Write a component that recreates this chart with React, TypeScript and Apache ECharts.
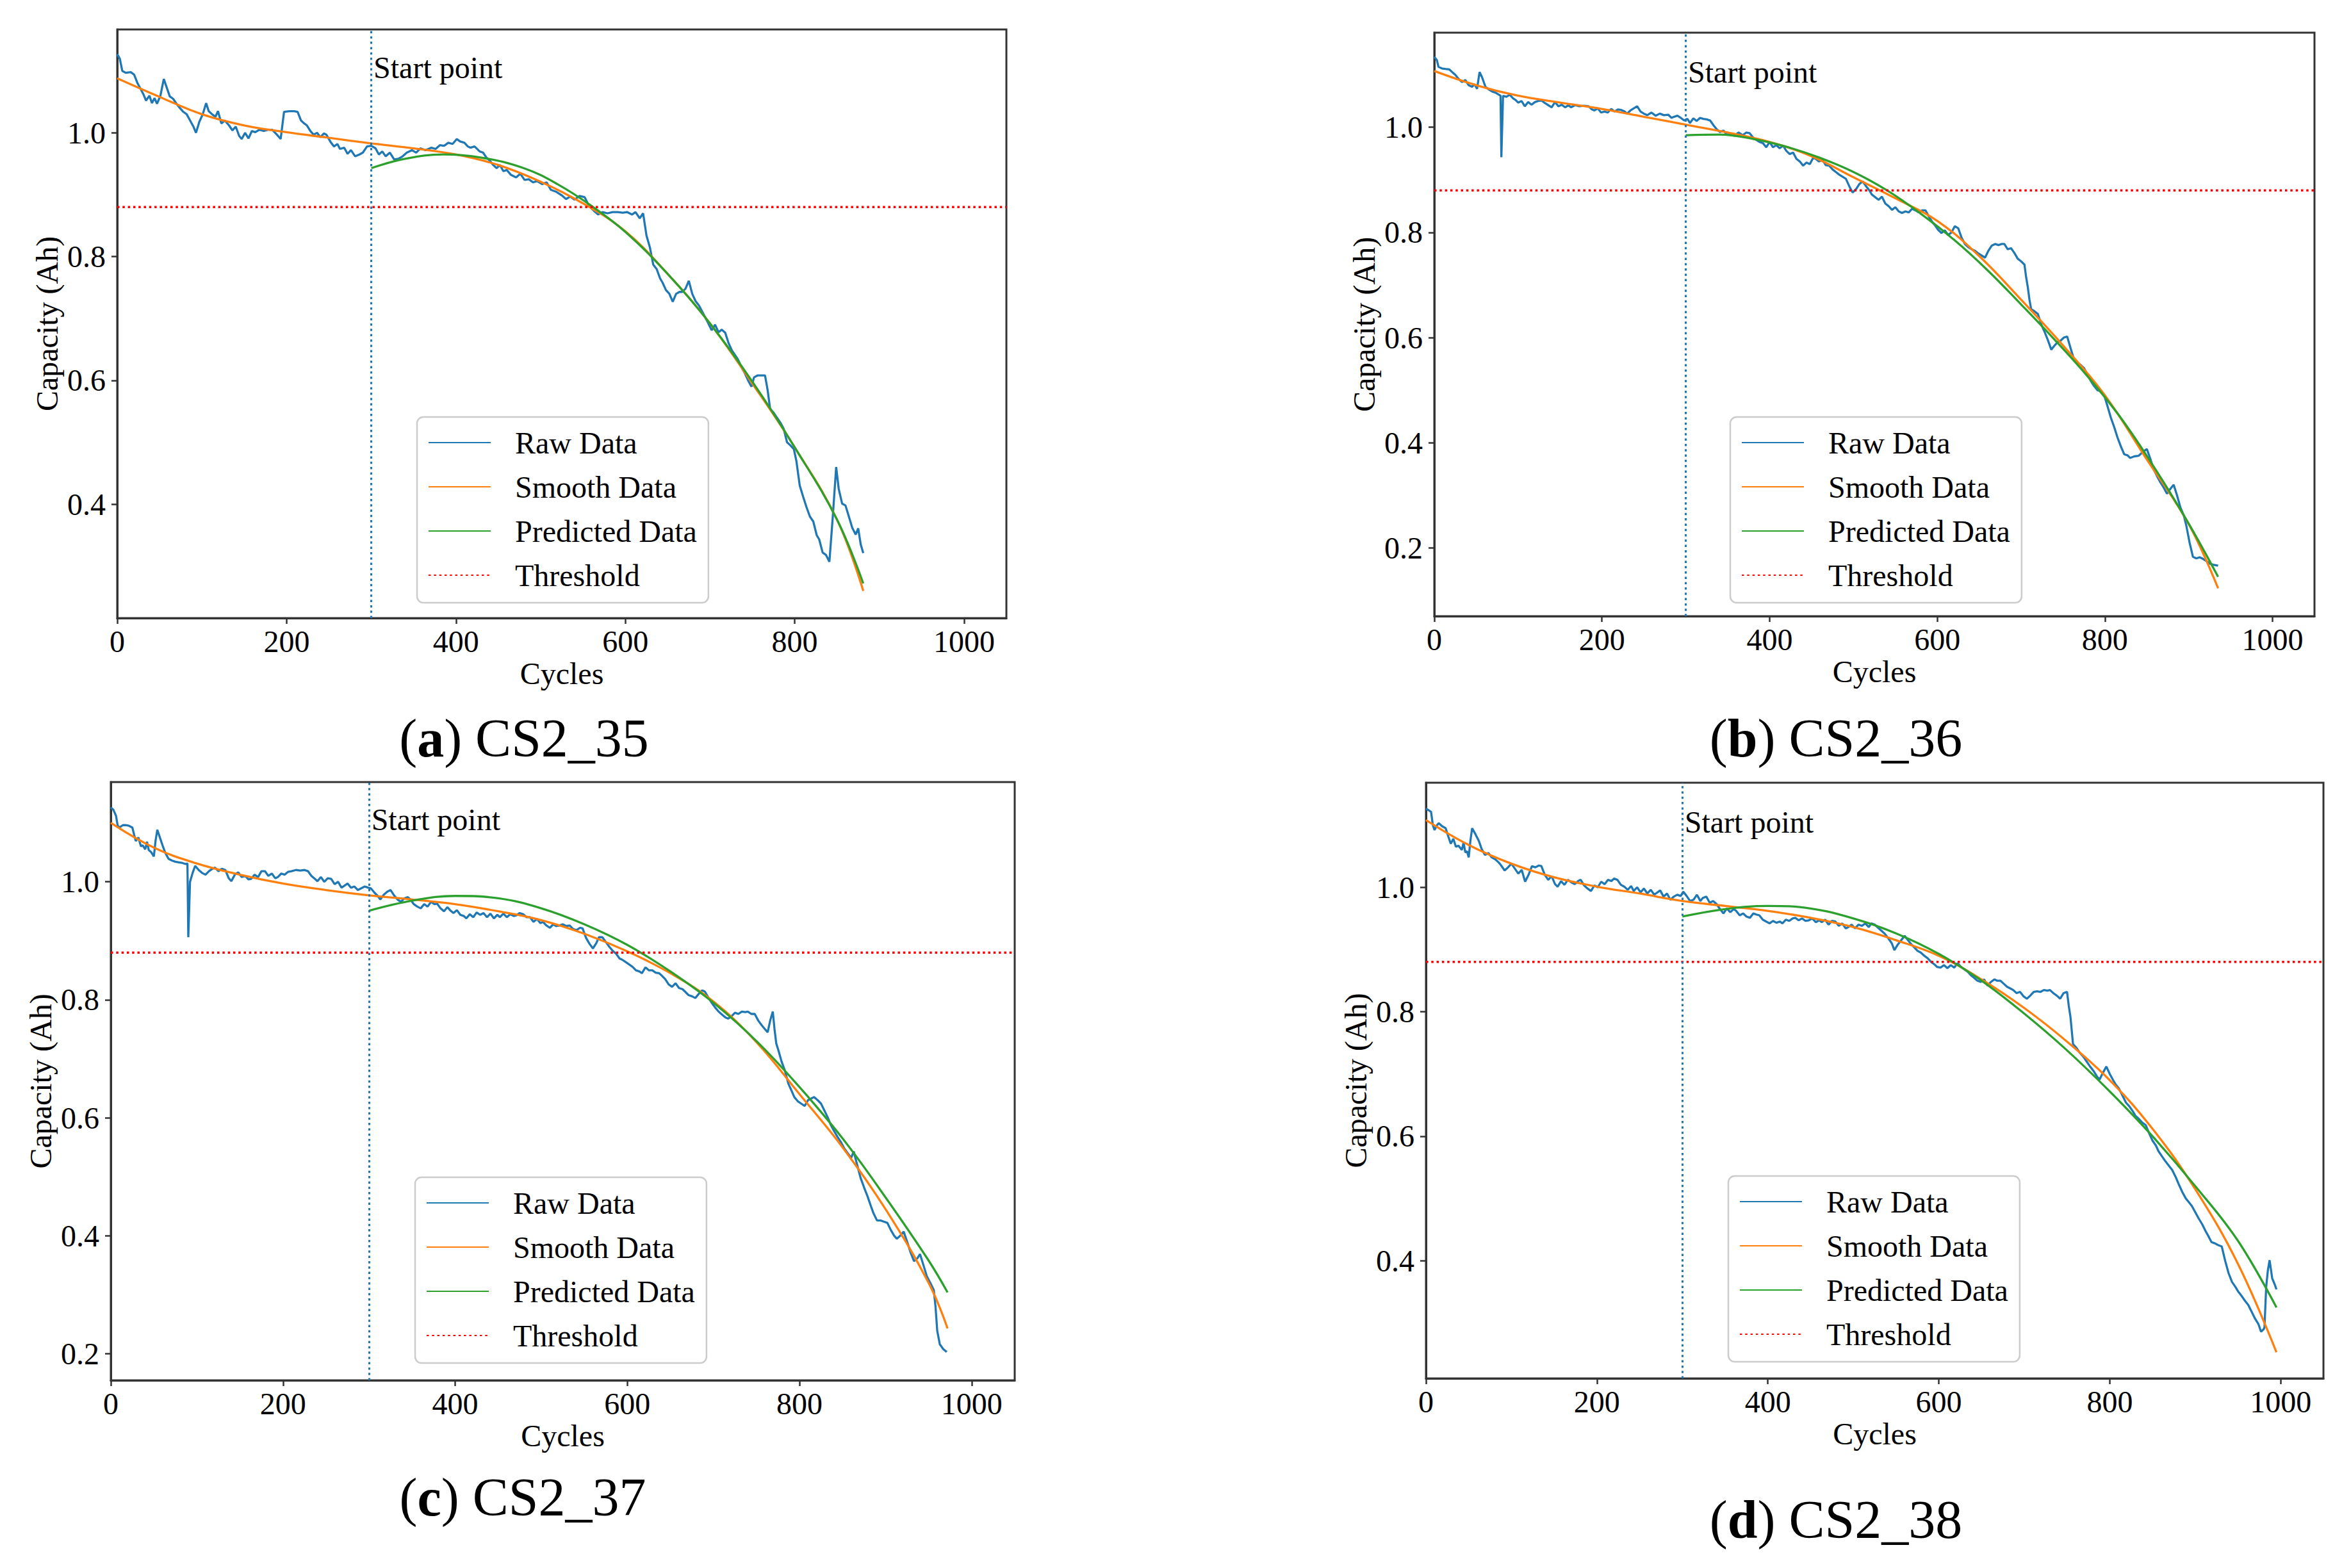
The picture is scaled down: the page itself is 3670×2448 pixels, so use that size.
import React, { useEffect, useRef } from 'react';
import * as echarts from 'echarts';

// capacity readings, [cycle, Ah]
const RAW_A: [number, number][] = [
  [0, 1.127], [3, 1.12], [6, 1.1], [10, 1.097], [16, 1.098], [20, 1.094], [24, 1.08], [28, 1.07], [31, 1.062], [34, 1.052],
  [38, 1.06], [41, 1.048], [44, 1.056], [47, 1.047], [51, 1.06], [55, 1.087], [58, 1.075], [62, 1.059], [66, 1.055], [70, 1.047],
  [74, 1.04], [78, 1.034], [82, 1.03], [86, 1.02], [90, 1.01], [93, 1.0], [97, 1.018], [101, 1.03], [105, 1.048], [108, 1.035],
  [112, 1.03], [116, 1.026], [119, 1.035], [123, 1.015], [127, 1.02], [132, 1.012], [136, 1.004], [140, 1.01], [144, 0.995], [147, 0.99],
  [151, 1.0], [155, 0.991], [159, 1.003], [163, 1.001], [168, 1.005], [173, 1.003], [178, 1.005], [183, 1.005], [188, 0.998], [193, 0.99],
  [197, 1.034], [203, 1.035], [209, 1.035], [213, 1.034], [217, 1.02], [220, 1.016], [224, 1.012], [228, 1.003], [232, 0.997], [236, 1.0],
  [240, 0.993], [244, 0.999], [247, 0.997], [252, 0.985], [256, 0.978], [260, 0.982], [263, 0.974], [268, 0.976], [272, 0.966], [276, 0.972],
  [281, 0.962], [286, 0.965], [290, 0.968], [295, 0.978], [300, 0.979], [305, 0.975], [309, 0.965], [313, 0.97], [317, 0.962], [322, 0.968],
  [327, 0.957], [332, 0.958], [337, 0.962], [342, 0.968], [348, 0.972], [353, 0.968], [358, 0.975], [364, 0.972], [371, 0.976], [376, 0.974],
  [381, 0.98], [386, 0.979], [391, 0.984], [396, 0.982], [401, 0.99], [405, 0.986], [410, 0.984], [414, 0.978], [417, 0.976], [422, 0.978],
  [428, 0.97], [432, 0.968], [436, 0.96], [440, 0.955], [444, 0.948], [448, 0.943], [452, 0.948], [456, 0.938], [460, 0.94], [465, 0.932],
  [471, 0.928], [476, 0.934], [481, 0.924], [486, 0.925], [491, 0.92], [496, 0.922], [502, 0.917], [507, 0.92], [512, 0.908], [518, 0.905],
  [525, 0.899], [530, 0.893], [535, 0.897], [540, 0.892], [546, 0.898], [552, 0.896], [556, 0.885], [560, 0.878], [563, 0.874], [568, 0.868],
  [573, 0.872], [579, 0.87], [585, 0.872], [591, 0.872], [597, 0.871], [602, 0.872], [608, 0.868], [612, 0.872], [617, 0.862], [621, 0.87],
  [625, 0.834], [629, 0.815], [633, 0.787], [637, 0.78], [641, 0.765], [644, 0.758], [648, 0.746], [652, 0.74], [656, 0.727], [660, 0.74],
  [664, 0.743], [667, 0.743], [671, 0.748], [675, 0.761], [679, 0.74], [683, 0.728], [687, 0.721], [692, 0.708], [697, 0.695], [702, 0.681],
  [706, 0.69], [710, 0.678], [714, 0.682], [718, 0.677], [722, 0.66], [726, 0.648], [730, 0.64], [733, 0.634], [737, 0.622], [741, 0.612],
  [745, 0.6], [749, 0.59], [752, 0.605], [756, 0.608], [760, 0.608], [765, 0.608], [768, 0.585], [771, 0.554], [775, 0.548], [779, 0.54],
  [783, 0.532], [787, 0.522], [791, 0.5], [795, 0.495], [799, 0.489], [802, 0.47], [806, 0.43], [810, 0.412], [814, 0.395], [818, 0.38],
  [822, 0.372], [826, 0.35], [829, 0.343], [833, 0.322], [837, 0.318], [841, 0.307], [845, 0.38], [849, 0.46], [852, 0.425], [856, 0.401],
  [860, 0.398], [864, 0.38], [868, 0.362], [872, 0.351], [875, 0.361], [878, 0.335], [881, 0.321],
];
const SMOOTH_A: [number, number][] = [
  [0, 1.088], [50, 1.058], [100, 1.03], [150, 1.012], [200, 1.001], [250, 0.992], [300, 0.983], [350, 0.975], [400, 0.965], [450, 0.948],
  [500, 0.921], [550, 0.886], [600, 0.841], [650, 0.772], [700, 0.692], [750, 0.595], [800, 0.492], [850, 0.375], [881, 0.26],
];
const PRED_A: [number, number][] = [
  [300, 0.943], [340, 0.958], [385, 0.965], [430, 0.96], [480, 0.943], [520, 0.917], [560, 0.882], [600, 0.84], [650, 0.772], [700, 0.692],
  [750, 0.598], [800, 0.492], [850, 0.375], [881, 0.272],
];

const RAW_B: [number, number][] = [
  [0, 1.134], [3, 1.128], [5, 1.115], [9, 1.112], [13, 1.111], [18, 1.11], [22, 1.104], [25, 1.1], [29, 1.092], [33, 1.086],
  [37, 1.09], [41, 1.08], [45, 1.077], [48, 1.082], [51, 1.073], [54, 1.105], [57, 1.095], [61, 1.077], [65, 1.072], [69, 1.068],
  [73, 1.066], [77, 1.062], [79, 1.06], [80, 0.943], [82, 1.06], [86, 1.058], [90, 1.062], [94, 1.055], [97, 1.052], [100, 1.047],
  [104, 1.05], [108, 1.04], [112, 1.048], [116, 1.043], [120, 1.048], [124, 1.05], [128, 1.051], [132, 1.046], [136, 1.042], [140, 1.038],
  [144, 1.048], [148, 1.04], [152, 1.043], [156, 1.038], [160, 1.042], [163, 1.038], [168, 1.042], [173, 1.04], [179, 1.041], [184, 1.04],
  [188, 1.034], [191, 1.032], [195, 1.036], [199, 1.028], [203, 1.03], [207, 1.028], [211, 1.035], [215, 1.03], [219, 1.034], [223, 1.033],
  [227, 1.03], [230, 1.026], [234, 1.032], [238, 1.036], [242, 1.04], [246, 1.03], [250, 1.026], [254, 1.023], [259, 1.028], [264, 1.022],
  [269, 1.026], [274, 1.023], [279, 1.024], [283, 1.018], [286, 1.02], [290, 1.022], [294, 1.018], [298, 1.013], [302, 1.016], [305, 1.008],
  [309, 1.017], [313, 1.012], [317, 1.018], [321, 1.016], [325, 1.015], [329, 1.013], [333, 1.004], [337, 0.996], [341, 0.991], [345, 0.994],
  [349, 0.986], [353, 0.987], [358, 0.984], [363, 0.99], [368, 0.985], [372, 0.99], [376, 0.989], [380, 0.981], [384, 0.976], [388, 0.972],
  [392, 0.97], [396, 0.962], [400, 0.972], [404, 0.962], [408, 0.966], [412, 0.96], [416, 0.965], [420, 0.955], [424, 0.949], [428, 0.952],
  [432, 0.94], [436, 0.935], [440, 0.927], [444, 0.933], [448, 0.93], [452, 0.942], [455, 0.94], [459, 0.935], [463, 0.938], [467, 0.928],
  [471, 0.927], [475, 0.92], [479, 0.915], [483, 0.91], [487, 0.906], [491, 0.902], [495, 0.888], [499, 0.876], [503, 0.882], [507, 0.892],
  [511, 0.897], [515, 0.888], [519, 0.88], [522, 0.872], [526, 0.867], [530, 0.862], [534, 0.868], [538, 0.855], [542, 0.85], [546, 0.843],
  [550, 0.848], [554, 0.84], [558, 0.837], [562, 0.84], [566, 0.838], [570, 0.845], [574, 0.842], [578, 0.838], [582, 0.842], [586, 0.842],
  [590, 0.83], [594, 0.82], [598, 0.812], [601, 0.805], [605, 0.799], [609, 0.804], [613, 0.795], [617, 0.8], [621, 0.812], [625, 0.808],
  [629, 0.79], [633, 0.778], [637, 0.772], [641, 0.768], [645, 0.765], [649, 0.76], [653, 0.756], [657, 0.752], [661, 0.765], [665, 0.775],
  [669, 0.778], [673, 0.776], [677, 0.778], [680, 0.778], [684, 0.768], [688, 0.77], [692, 0.761], [696, 0.75], [700, 0.745], [704, 0.739],
  [706, 0.715], [708, 0.696], [710, 0.672], [712, 0.654], [716, 0.65], [720, 0.645], [724, 0.625], [728, 0.611], [732, 0.595], [736, 0.577],
  [740, 0.585], [744, 0.592], [747, 0.594], [751, 0.6], [755, 0.602], [759, 0.58], [763, 0.559], [767, 0.552], [771, 0.548], [775, 0.542],
  [779, 0.53], [783, 0.518], [787, 0.508], [791, 0.5], [795, 0.498], [799, 0.491], [803, 0.47], [807, 0.448], [811, 0.43], [815, 0.41],
  [819, 0.393], [823, 0.378], [827, 0.376], [830, 0.371], [835, 0.374], [840, 0.375], [845, 0.382], [850, 0.388], [854, 0.37], [858, 0.35],
  [862, 0.337], [866, 0.325], [870, 0.315], [874, 0.303], [878, 0.312], [882, 0.32], [886, 0.3], [890, 0.277], [894, 0.262], [897, 0.243],
  [901, 0.21], [905, 0.183], [909, 0.18], [913, 0.182], [917, 0.179], [921, 0.175], [925, 0.17], [929, 0.168], [932, 0.167], [935, 0.166],
];
const SMOOTH_B: [number, number][] = [
  [0, 1.107], [50, 1.08], [100, 1.06], [150, 1.047], [200, 1.035], [250, 1.02], [300, 1.005], [350, 0.99], [400, 0.972], [450, 0.945],
  [500, 0.905], [550, 0.865], [600, 0.822], [650, 0.755], [700, 0.672], [750, 0.585], [800, 0.49], [850, 0.368], [900, 0.245], [935, 0.123],
];
const PRED_B: [number, number][] = [
  [300, 0.985], [340, 0.986], [380, 0.978], [420, 0.963], [460, 0.942], [500, 0.915], [540, 0.88], [580, 0.836], [620, 0.786], [660, 0.728],
  [700, 0.663], [740, 0.596], [780, 0.525], [820, 0.445], [860, 0.35], [900, 0.246], [935, 0.145],
];

const RAW_C: [number, number][] = [
  [0, 1.126], [3, 1.122], [6, 1.112], [8, 1.095], [10, 1.092], [14, 1.096], [17, 1.096], [21, 1.095], [25, 1.092], [27, 1.08],
  [29, 1.069], [32, 1.075], [35, 1.06], [37, 1.062], [40, 1.055], [42, 1.068], [44, 1.054], [47, 1.05], [50, 1.043], [52, 1.07],
  [54, 1.088], [57, 1.075], [60, 1.062], [63, 1.05], [67, 1.039], [71, 1.036], [75, 1.034], [79, 1.033], [83, 1.032], [87, 1.03],
  [89, 1.031], [90, 0.906], [92, 1.0], [95, 1.015], [98, 1.027], [102, 1.02], [106, 1.015], [110, 1.012], [114, 1.018], [118, 1.022],
  [121, 1.024], [125, 1.018], [129, 1.022], [133, 1.02], [137, 1.006], [140, 1.001], [144, 1.012], [148, 1.016], [152, 1.008], [156, 1.01],
  [160, 1.004], [163, 1.005], [167, 1.012], [171, 1.008], [175, 1.018], [179, 1.018], [183, 1.01], [187, 1.014], [191, 1.006], [194, 1.008],
  [198, 1.014], [202, 1.012], [206, 1.017], [210, 1.018], [215, 1.02], [220, 1.019], [225, 1.02], [229, 1.018], [233, 1.01], [237, 1.005],
  [240, 1.001], [244, 1.008], [248, 1.0], [252, 1.006], [256, 1.005], [260, 0.996], [264, 1.0], [268, 0.99], [271, 0.993], [275, 0.997],
  [279, 0.99], [283, 0.992], [287, 0.986], [291, 0.989], [295, 0.992], [299, 0.99], [302, 0.989], [306, 0.982], [310, 0.976], [313, 0.97],
  [317, 0.978], [321, 0.983], [325, 0.986], [329, 0.977], [333, 0.97], [337, 0.966], [341, 0.972], [345, 0.974], [348, 0.97], [352, 0.962],
  [356, 0.958], [360, 0.955], [364, 0.962], [368, 0.958], [372, 0.966], [376, 0.962], [379, 0.963], [383, 0.955], [387, 0.95], [391, 0.957],
  [394, 0.952], [398, 0.947], [402, 0.952], [406, 0.944], [410, 0.942], [413, 0.938], [417, 0.945], [421, 0.94], [425, 0.948], [429, 0.944],
  [433, 0.947], [437, 0.94], [441, 0.946], [445, 0.938], [449, 0.944], [452, 0.94], [456, 0.946], [460, 0.94], [464, 0.945], [468, 0.942],
  [471, 0.943], [475, 0.947], [479, 0.945], [483, 0.94], [487, 0.94], [491, 0.932], [495, 0.937], [499, 0.93], [502, 0.932], [506, 0.926],
  [510, 0.922], [514, 0.928], [517, 0.925], [521, 0.926], [525, 0.928], [529, 0.925], [533, 0.926], [537, 0.92], [541, 0.918], [545, 0.922],
  [548, 0.921], [552, 0.905], [556, 0.895], [560, 0.887], [564, 0.896], [567, 0.906], [571, 0.906], [575, 0.898], [579, 0.89], [583, 0.883],
  [587, 0.878], [591, 0.87], [594, 0.868], [598, 0.864], [602, 0.86], [606, 0.856], [610, 0.85], [614, 0.848], [617, 0.845], [621, 0.855],
  [625, 0.85], [629, 0.85], [633, 0.846], [637, 0.845], [640, 0.841], [644, 0.835], [648, 0.826], [652, 0.822], [656, 0.828], [660, 0.82],
  [664, 0.818], [667, 0.814], [671, 0.808], [675, 0.806], [679, 0.803], [683, 0.81], [687, 0.816], [690, 0.814], [694, 0.804], [698, 0.795],
  [702, 0.787], [706, 0.78], [710, 0.775], [714, 0.77], [717, 0.768], [721, 0.772], [725, 0.778], [729, 0.776], [733, 0.78], [737, 0.779],
  [740, 0.78], [744, 0.776], [748, 0.776], [752, 0.765], [756, 0.757], [760, 0.75], [763, 0.745], [766, 0.765], [769, 0.78], [771, 0.75],
  [773, 0.726], [776, 0.712], [779, 0.696], [783, 0.68], [787, 0.658], [791, 0.645], [794, 0.635], [798, 0.628], [802, 0.624], [806, 0.62],
  [810, 0.63], [814, 0.633], [817, 0.635], [821, 0.63], [825, 0.624], [829, 0.612], [833, 0.6], [836, 0.589], [840, 0.578], [844, 0.568],
  [848, 0.559], [852, 0.548], [856, 0.54], [860, 0.532], [863, 0.543], [867, 0.52], [871, 0.498], [875, 0.482], [879, 0.467], [883, 0.45],
  [886, 0.438], [890, 0.426], [894, 0.426], [898, 0.424], [902, 0.422], [906, 0.41], [910, 0.4], [913, 0.395], [917, 0.4], [921, 0.407],
  [925, 0.39], [929, 0.372], [933, 0.357], [937, 0.362], [940, 0.369], [944, 0.35], [948, 0.331], [952, 0.32], [956, 0.308], [958, 0.28],
  [960, 0.239], [963, 0.216], [967, 0.208], [971, 0.203],
];
const SMOOTH_C: [number, number][] = [
  [0, 1.1], [50, 1.058], [100, 1.031], [150, 1.012], [200, 0.997], [250, 0.986], [300, 0.977], [350, 0.97], [400, 0.962], [450, 0.95],
  [500, 0.935], [550, 0.912], [600, 0.882], [650, 0.845], [700, 0.797], [750, 0.728], [800, 0.64], [850, 0.55], [900, 0.445], [950, 0.32],
  [972, 0.243],
];
const PRED_C: [number, number][] = [
  [300, 0.951], [350, 0.968], [400, 0.976], [450, 0.972], [500, 0.955], [550, 0.928], [600, 0.893], [650, 0.848], [700, 0.795], [750, 0.73],
  [800, 0.652], [850, 0.565], [900, 0.465], [950, 0.358], [972, 0.304],
];

const RAW_D: [number, number][] = [
  [0, 1.126], [3, 1.124], [6, 1.121], [8, 1.1], [10, 1.092], [13, 1.1], [15, 1.103], [19, 1.098], [23, 1.095], [26, 1.082],
  [29, 1.07], [32, 1.078], [35, 1.065], [38, 1.067], [42, 1.06], [44, 1.072], [46, 1.056], [48, 1.058], [50, 1.048], [52, 1.075],
  [54, 1.095], [58, 1.085], [62, 1.074], [65, 1.062], [69, 1.052], [73, 1.055], [77, 1.048], [81, 1.045], [85, 1.04], [88, 1.035],
  [92, 1.027], [96, 1.032], [100, 1.038], [104, 1.03], [108, 1.022], [112, 1.028], [116, 1.009], [120, 1.02], [124, 1.034], [128, 1.032],
  [132, 1.035], [135, 1.034], [139, 1.02], [143, 1.012], [147, 1.018], [151, 1.005], [154, 1.001], [158, 1.01], [162, 1.004], [166, 1.012],
  [170, 1.008], [174, 1.005], [178, 1.01], [181, 1.012], [185, 1.003], [189, 0.998], [193, 0.994], [197, 1.003], [201, 1.0], [205, 1.009],
  [209, 1.005], [213, 1.012], [217, 1.01], [220, 1.014], [224, 1.012], [228, 1.004], [232, 1.001], [236, 0.996], [240, 1.002], [243, 0.994],
  [247, 1.0], [251, 0.992], [255, 0.998], [259, 0.99], [263, 0.996], [267, 0.988], [270, 0.991], [274, 0.995], [278, 0.985], [282, 0.99],
  [286, 0.98], [290, 0.985], [294, 0.988], [298, 0.986], [301, 0.993], [305, 0.986], [309, 0.978], [313, 0.98], [317, 0.988], [321, 0.978],
  [324, 0.983], [328, 0.985], [332, 0.975], [336, 0.978], [340, 0.973], [344, 0.965], [348, 0.958], [352, 0.966], [356, 0.96], [360, 0.965],
  [363, 0.962], [367, 0.955], [371, 0.958], [375, 0.953], [379, 0.951], [383, 0.958], [387, 0.956], [390, 0.955], [394, 0.948], [398, 0.945],
  [402, 0.942], [406, 0.946], [410, 0.943], [414, 0.945], [417, 0.942], [421, 0.948], [425, 0.946], [429, 0.95], [432, 0.951], [436, 0.947],
  [440, 0.95], [444, 0.946], [448, 0.947], [452, 0.95], [456, 0.944], [460, 0.947], [463, 0.944], [467, 0.948], [471, 0.94], [475, 0.946],
  [479, 0.945], [483, 0.938], [487, 0.942], [491, 0.934], [494, 0.936], [498, 0.94], [502, 0.934], [506, 0.94], [510, 0.938], [514, 0.942],
  [518, 0.936], [521, 0.942], [525, 0.94], [529, 0.935], [533, 0.93], [537, 0.925], [541, 0.918], [545, 0.91], [548, 0.899], [552, 0.908],
  [556, 0.915], [560, 0.922], [564, 0.915], [568, 0.908], [571, 0.904], [575, 0.898], [579, 0.895], [583, 0.89], [587, 0.886], [591, 0.88],
  [595, 0.876], [598, 0.872], [602, 0.871], [606, 0.875], [610, 0.87], [614, 0.875], [618, 0.871], [622, 0.878], [626, 0.872], [630, 0.868],
  [634, 0.864], [638, 0.858], [641, 0.855], [645, 0.85], [649, 0.848], [653, 0.852], [657, 0.842], [661, 0.848], [665, 0.852], [668, 0.85],
  [672, 0.85], [676, 0.845], [680, 0.84], [683, 0.838], [687, 0.835], [691, 0.83], [695, 0.832], [699, 0.825], [703, 0.821], [707, 0.826],
  [711, 0.832], [715, 0.833], [719, 0.832], [723, 0.835], [727, 0.834], [730, 0.835], [734, 0.83], [738, 0.826], [742, 0.821], [746, 0.83],
  [750, 0.832], [752, 0.81], [754, 0.792], [757, 0.748], [761, 0.742], [765, 0.734], [769, 0.728], [773, 0.72], [777, 0.712], [781, 0.705],
  [785, 0.696], [788, 0.691], [792, 0.702], [796, 0.712], [800, 0.7], [804, 0.69], [807, 0.683], [811, 0.676], [815, 0.665], [819, 0.654],
  [823, 0.648], [827, 0.64], [830, 0.633], [834, 0.628], [838, 0.622], [842, 0.618], [846, 0.605], [850, 0.593], [854, 0.585], [857, 0.576],
  [861, 0.568], [865, 0.56], [869, 0.553], [873, 0.546], [877, 0.535], [881, 0.522], [885, 0.51], [889, 0.5], [892, 0.495], [896, 0.488],
  [900, 0.478], [904, 0.468], [908, 0.459], [912, 0.448], [916, 0.438], [919, 0.43], [923, 0.428], [927, 0.425], [931, 0.423], [935, 0.4],
  [939, 0.38], [943, 0.366], [947, 0.358], [950, 0.351], [954, 0.344], [958, 0.336], [962, 0.329], [966, 0.318], [970, 0.307], [974, 0.298],
  [977, 0.286], [980, 0.29], [981, 0.293], [983, 0.358], [985, 0.385], [987, 0.401], [990, 0.372], [993, 0.362], [995, 0.354],
];
const SMOOTH_D: [number, number][] = [
  [0, 1.108], [50, 1.068], [100, 1.038], [150, 1.016], [200, 1.001], [250, 0.99], [300, 0.978], [350, 0.97], [400, 0.962], [450, 0.951],
  [500, 0.936], [550, 0.915], [600, 0.89], [650, 0.852], [700, 0.806], [750, 0.752], [800, 0.69], [850, 0.612], [900, 0.515], [950, 0.395],
  [995, 0.253],
];
const PRED_D: [number, number][] = [
  [300, 0.953], [350, 0.965], [400, 0.97], [450, 0.966], [500, 0.95], [550, 0.926], [600, 0.893], [650, 0.85], [700, 0.797], [750, 0.738],
  [800, 0.672], [850, 0.6], [900, 0.52], [950, 0.432], [995, 0.325],
];

const X_TICKS = [0, 200, 400, 600, 800, 1000];
const X_MAX = 1050;
const THRESHOLD = 0.88;
const START_CYCLE = 300;
const START_LABEL_Y = 1.105;
const LEGEND_NAMES = ['Raw Data', 'Smooth Data', 'Predicted Data', 'Threshold'];

const FONT = "'Liberation Serif', 'Times New Roman', serif";
const AXIS_COLOR = '#333333';
const LINE_W = 3.3;
const DOTS = [3.5, 4.8];

interface Panel {
  letter: string;
  cell: string;
  raw: [number, number][];
  smooth: [number, number][];
  predicted: [number, number][];
  yMin: number;
  yMax: number;
  yTicks: number[];
  grid: { left: number; top: number; width: number; height: number };
  legend: { left: number; top: number };
  caption: { x: number; y: number };
}

const PANELS: Panel[] = [
  {
    letter: 'a', cell: 'CS2_35', raw: RAW_A, smooth: SMOOTH_A, predicted: PRED_A,
    yMin: 0.216, yMax: 1.167, yTicks: [0.4, 0.6, 0.8, 1.0],
    grid: { left: 183, top: 46, width: 1388, height: 919 },
    legend: { left: 651, top: 651 },
    caption: { x: 818, y: 1152 },
  },
  {
    letter: 'b', cell: 'CS2_36', raw: RAW_B, smooth: SMOOTH_B, predicted: PRED_B,
    yMin: 0.07, yMax: 1.18, yTicks: [0.2, 0.4, 0.6, 0.8, 1.0],
    grid: { left: 2239, top: 51, width: 1374, height: 911 },
    legend: { left: 2701, top: 651 },
    caption: { x: 2866, y: 1152 },
  },
  {
    letter: 'c', cell: 'CS2_37', raw: RAW_C, smooth: SMOOTH_C, predicted: PRED_C,
    yMin: 0.155, yMax: 1.169, yTicks: [0.2, 0.4, 0.6, 0.8, 1.0],
    grid: { left: 173, top: 1221, width: 1411, height: 934 },
    legend: { left: 648, top: 1838 },
    caption: { x: 816, y: 2337 },
  },
  {
    letter: 'd', cell: 'CS2_38', raw: RAW_D, smooth: SMOOTH_D, predicted: PRED_D,
    yMin: 0.211, yMax: 1.168, yTicks: [0.4, 0.6, 0.8, 1.0],
    grid: { left: 2226, top: 1222, width: 1401, height: 930 },
    legend: { left: 2698, top: 1836 },
    caption: { x: 2866, y: 2372 },
  },
];

const textStyle = { fontSize: 48, fontFamily: FONT, color: '#000' };

const buildOption = () => {
  const grid: any[] = [];
  const xAxis: any[] = [];
  const yAxis: any[] = [];
  const series: any[] = [];
  const legend: any[] = [];
  const graphic: any[] = [];

  PANELS.forEach((p, i) => {
    grid.push({
      ...p.grid,
      show: true,
      borderColor: AXIS_COLOR,
      borderWidth: 3,
      backgroundColor: 'transparent',
    });
    xAxis.push({
      gridIndex: i,
      type: 'value',
      min: 0,
      max: X_MAX,
      name: 'Cycles',
      nameLocation: 'middle',
      nameGap: 62,
      nameTextStyle: textStyle,
      axisLine: { show: true, onZero: false, lineStyle: { color: AXIS_COLOR, width: 3 } },
      axisTick: { show: true, length: 9, lineStyle: { color: AXIS_COLOR, width: 2.5 }, customValues: X_TICKS },
      axisLabel: { ...textStyle, margin: 12, customValues: X_TICKS, formatter: (v: number) => String(v) },
      splitLine: { show: false },
    });
    yAxis.push({
      gridIndex: i,
      type: 'value',
      min: p.yMin,
      max: p.yMax,
      name: 'Capacity (Ah)',
      nameLocation: 'middle',
      nameGap: 86,
      nameTextStyle: textStyle,
      axisLine: { show: true, onZero: false, lineStyle: { color: AXIS_COLOR, width: 3 } },
      axisTick: { show: true, length: 9, lineStyle: { color: AXIS_COLOR, width: 2.5 }, customValues: p.yTicks },
      axisLabel: {
        ...textStyle,
        margin: 18,
        customValues: p.yTicks,
        formatter: (v: number) => v.toFixed(1),
      },
      splitLine: { show: false },
    });

    const common = { xAxisIndex: i, yAxisIndex: i, type: 'line', symbol: 'none', showSymbol: false, silent: true };
    series.push(
      {
        ...common,
        name: 'Raw Data',
        data: p.raw,
        lineStyle: { color: '#1f77b4', width: LINE_W },
        itemStyle: { color: '#1f77b4' },
        markLine: {
          silent: true,
          symbol: ['none', 'none'],
          label: { show: false },
          lineStyle: { color: '#1f77b4', type: DOTS, width: 3 },
          data: [{ xAxis: START_CYCLE }],
        },
      },
      {
        ...common,
        name: 'Smooth Data',
        data: p.smooth,
        smooth: 0.4,
        lineStyle: { color: '#ff7f0e', width: LINE_W },
        itemStyle: { color: '#ff7f0e' },
      },
      {
        ...common,
        name: 'Predicted Data',
        data: p.predicted,
        smooth: 0.4,
        lineStyle: { color: '#2ca02c', width: LINE_W },
        itemStyle: { color: '#2ca02c' },
      },
      {
        ...common,
        name: 'Threshold',
        data: [[0, THRESHOLD], [X_MAX, THRESHOLD]],
        lineStyle: { color: '#ff0000', width: 3.5, type: DOTS },
        itemStyle: { color: '#ff0000' },
      },
      {
        type: 'scatter',
        xAxisIndex: i,
        yAxisIndex: i,
        silent: true,
        data: [[START_CYCLE, START_LABEL_Y]],
        symbolSize: 1,
        itemStyle: { color: 'rgba(0,0,0,0)' },
        label: {
          show: true,
          formatter: 'Start point',
          position: 'right',
          distance: 3,
          opacity: 1,
          ...textStyle,
        },
      },
    );

    legend.push({
      left: p.legend.left,
      top: p.legend.top,
      orient: 'vertical',
      data: LEGEND_NAMES,
      selectedMode: false,
      itemWidth: 97,
      itemHeight: 20,
      itemGap: 21,
      itemStyle: { opacity: 0 },
      padding: [16, 18, 19, 17],
      backgroundColor: 'rgba(255,255,255,0.8)',
      borderColor: '#cccccc',
      borderWidth: 2.5,
      borderRadius: 10,
      textStyle: { ...textStyle, padding: [0, 0, 0, 33] },
    });

    graphic.push({
      type: 'text',
      x: p.caption.x,
      y: p.caption.y,
      silent: true,
      style: {
        text: `({b|${p.letter}}) ${p.cell}`,
        align: 'center',
        verticalAlign: 'middle',
        fontSize: 84,
        fontFamily: FONT,
        fill: '#000',
        rich: { b: { fontSize: 84, fontFamily: FONT, fontWeight: 'bold', fill: '#000' } },
      },
    });
  });

  return { animation: false, backgroundColor: '#ffffff', grid, xAxis, yAxis, series, legend, graphic };
};

const App: React.FC = () => {
  const chartRef = useRef<HTMLDivElement>(null);

  useEffect(() => {
    if (!chartRef.current) return;
    const chart = echarts.init(chartRef.current, undefined, { renderer: 'svg' });
    chart.setOption(buildOption());
    return () => {
      chart.dispose();
    };
  }, []);

  return (
    <div
      ref={chartRef}
      style={{ position: 'absolute', left: 0, top: 0, width: '3670px', height: '2448px', background: '#fff' }}
    />
  );
};

export default App;
